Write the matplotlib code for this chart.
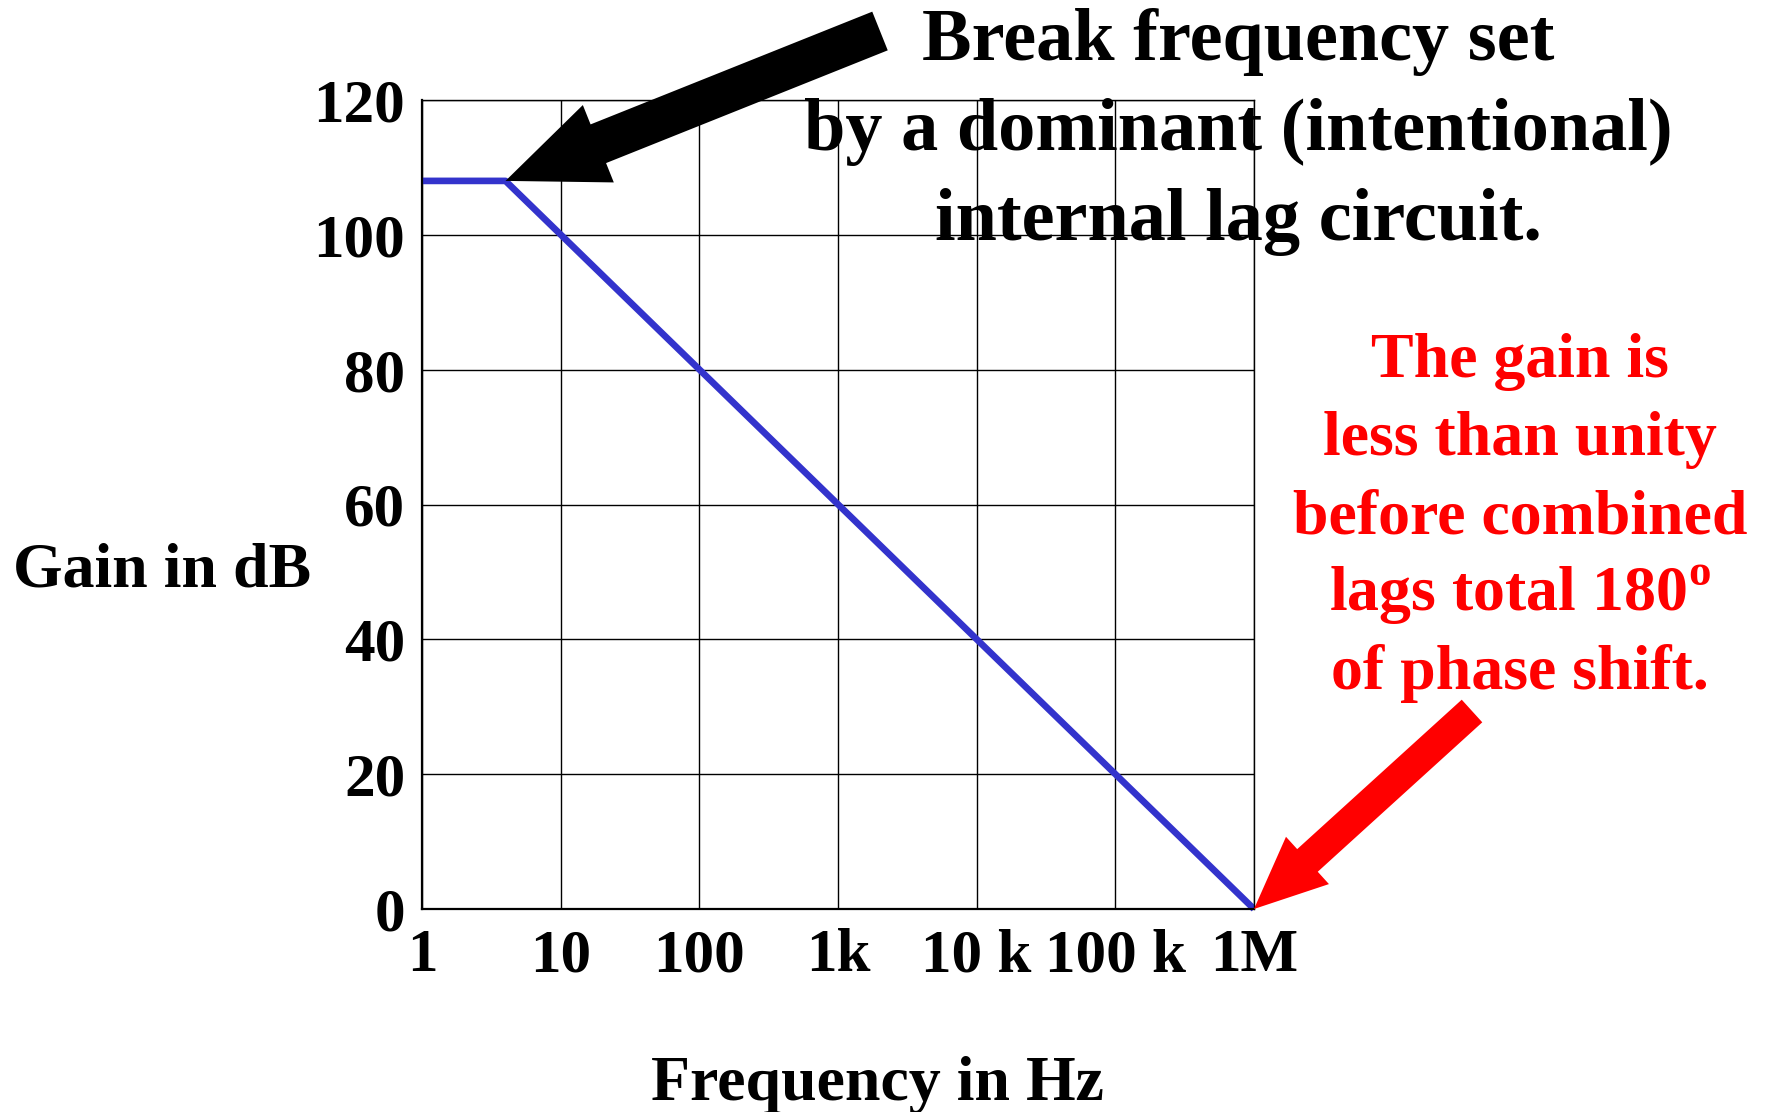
import matplotlib
matplotlib.use('Agg')
import matplotlib.pyplot as plt

# Bode magnitude: flat open-loop gain, one break, then -20 dB/decade to 0 dB at 1 MHz
freq_hz = [1, 4, 1e6]
gain_db = [108, 108, 0]

x_ticks = [1, 10, 100, 1e3, 1e4, 1e5, 1e6]
x_labels = ['1', '10', '100', '1k', '10 k', '100 k', '1M']
y_ticks = [0, 20, 40, 60, 80, 100, 120]

note_black = ['Break frequency set',
              'by a dominant (intentional)',
              'internal lag circuit.']
note_red = ['The gain is',
            'less than unity',
            'before combined',
            'lags total 180$^{\\mathrm{o}}$',
            'of phase shift.']

plt.rcParams['font.family'] = 'Liberation Serif'
plt.rcParams['font.weight'] = 'bold'
plt.rcParams['axes.labelweight'] = 'bold'
plt.rcParams['mathtext.fontset'] = 'custom'
plt.rcParams['mathtext.rm'] = 'Liberation Serif:bold'

W, H = 1766, 1112
fig = plt.figure(figsize=(W / 100, H / 100), dpi=100)
ax = fig.add_axes([422 / W, 1 - 909 / H, 832 / W, 809 / H])

ax.plot(freq_hz, gain_db, color='#3333cc', lw=4.8, clip_on=False, zorder=2.5,
        solid_capstyle='butt')

ax.set_xscale('log')
ax.set_xlim(1, 1e6)
ax.set_ylim(0, 120)
ax.set_xticks(x_ticks, x_labels)
ax.xaxis.set_minor_locator(plt.NullLocator())
ax.set_yticks(y_ticks)
ax.tick_params(length=0, labelsize=44)
ax.tick_params(axis='x', pad=14)
ax.tick_params(axis='y', pad=12)
ax.set_axisbelow(True)
ax.grid(True, color='black', lw=1.0)
for side in ['left', 'bottom']:
    ax.spines[side].set_linewidth(1.6)
for side in ['top', 'right']:
    ax.spines[side].set_linewidth(1.0)

ax.set_xlabel('Frequency in Hz', fontsize=46, fontweight='bold')
ax.xaxis.set_label_coords(0.548, -0.182)
ax.set_ylabel('Gain in dB', fontsize=46, fontweight='bold', rotation=0,
              ha='center', va='center')
ax.yaxis.set_label_coords(-0.313, 0.417)

# arrows: widths are in points (mutation_scale=1)
ax.annotate('', xy=(freq_hz[1], gain_db[1]), xytext=(880, H - 31),
            textcoords='figure pixels', annotation_clip=False, zorder=4,
            arrowprops=dict(arrowstyle='simple,head_length=72,head_width=60,tail_width=30',
                            mutation_scale=1, fc='black', ec='none',
                            shrinkA=0, shrinkB=0))
ax.annotate('', xy=(freq_hz[-1], gain_db[-1]), xytext=(1472, H - 711),
            textcoords='figure pixels', annotation_clip=False, zorder=4,
            arrowprops=dict(arrowstyle='simple,head_length=52,head_width=46,tail_width=22',
                            mutation_scale=1, fc='red', ec='none',
                            shrinkA=0, shrinkB=0))

for i, line in enumerate(note_black):
    fig.text(1238 / W, 1 - (60 + 90 * i) / H, line, ha='center', va='baseline',
             fontsize=53.5, color='black')
for i, line in enumerate(note_red):
    fig.text(1520 / W, 1 - (377 + 78 * i) / H, line, ha='center', va='baseline',
             fontsize=46, color='red')

fig.savefig('out.png', dpi=100)
